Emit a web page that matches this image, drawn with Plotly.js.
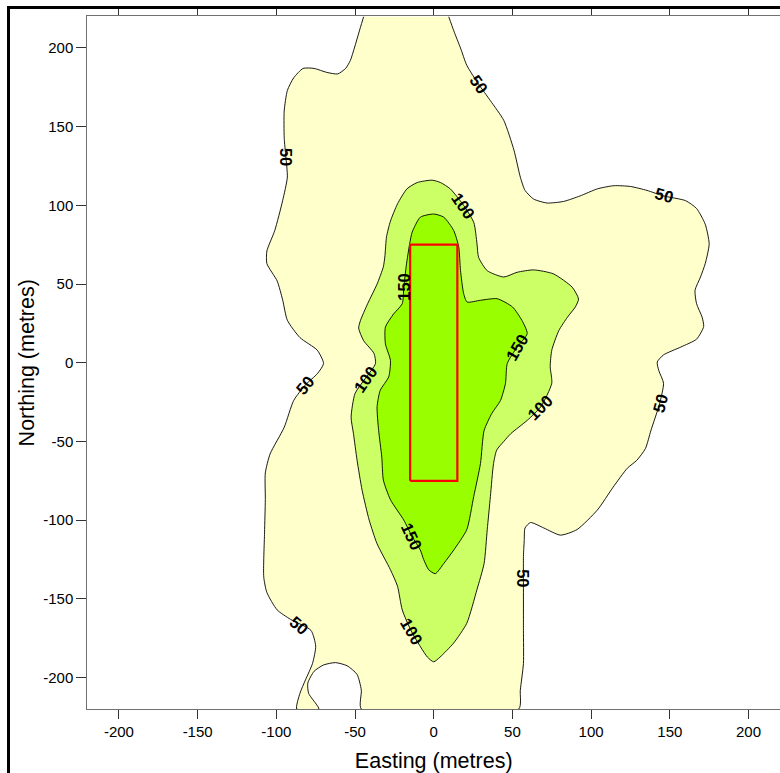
<!DOCTYPE html>
<html>
<head>
<meta charset="utf-8">
<script src="https://cdn.plot.ly/plotly-3.0.1.min.js"></script>
<style>
html,body{margin:0;padding:0;background:#fff;}
#chart{width:780px;height:773px;}
</style>
</head>
<body>
<div id="chart"></div>
<script>
// ---- contour outlines (data units, metres) ----
const c50x = [-44.5,-46.6,-53,-56,-61,-68,-76,-83,-89,-93,-95,-95,-94,-93,-96,-101,-106,-106,-99.5,-96,-93,-85,-74,-70,-74,-81.5,-89,-95,-104,-107,-107,-107.5,-108,-106,-99.5,-91,-78,-75,-77,-81.5,-85,-87,
  -73,-79.5,-80,-76,-70,-62.5,-55,-48.7,-46,-46,
  54,55,57,57,57,57,57.5,58,61.5,70,80.5,91,104,114,123,129,134.5,138,143.5,146,143,142,146,157,167,171.5,170.5,167,166,169.5,172.5,175,172.5,167,160,146,135.5,125,114.5,104,93,82.5,72,63.5,58,55,51,44.5,36,28.5,21,17,12.7,9.5];
const c50y = [220,213,192,187,183.5,184.5,187,187,181,173,160,143,131,118,103,84,71,63,52,40,27,16,8,-0.5,-7,-14,-24,-41,-58,-70,-87,-108,-136,-146,-157,-163,-170,-180,-191,-201.5,-210,-220,
  -220,-210,-203.5,-196,-192,-190.5,-192.5,-198,-208,-220,
  -220,-208,-191,-170,-137,-123,-113,-105,-101.5,-105,-109.5,-106,-93.5,-79,-67,-62,-54.5,-43,-26,-13,-5,0.5,5,10,15,23,29,37.5,46,54.5,63,75.5,88,98,103,106,109.5,112,112.5,110.5,106,102.5,101.5,104,109.5,118,135,154,166.5,177,189,200,211,220];

const c100x = [-1,-10.5,-17,-23,-27.5,-30,-31,-32,-36,-42,-46.5,-47.7,-44.5,-38,-37,-43.5,-50,-52.5,-51,-48.7,-45.5,-41,-36,-27.5,-23,-20,-14,-4,0,4,12.7,21,27.5,32,34,36,38,40,44.5,49,59.5,68,75,74,75,79.5,85,90,92,88,76,63.5,53,44.5,34,28.5,27.5,25.5,19,10.5,4.3];
const c100y = [116,114.5,110.5,101,90,80,68,61,50,37.5,27,22,14,6,-0.5,-10,-19.5,-34.5,-45,-62,-81,-100,-115,-131.5,-142,-157,-171,-187,-190,-187,-178,-165.5,-144,-127.5,-106,-85,-64,-55.5,-50,-45,-36.5,-28,-13,-2.5,8,20.5,29,35.5,40.5,48,56.5,59,57.5,54.5,58.5,67,75.5,89,100,110.5,114.5];

const c150x = [0,-8.5,-13.7,-15.3,-17.4,-19,-20,-25.5,-30.7,-30.7,-27.5,-28.6,-34,-36,-35,-33,-32,-27.5,-19,-13.7,-8.5,-6.4,-3.2,1,6.4,12.7,21,25.4,29.7,32,37,42.4,45.6,46.7,53,59.4,56,50,40.3,29.7,21.2,19,17,15.9,12.7,6.4];
const c150y = [94.5,92.5,83,75.6,62,48,37.5,31,22.7,12,1.5,-9,-17.5,-28,-43,-60,-74.5,-87,-100,-110.5,-119,-125,-131.5,-134,-127.5,-119,-106,-85,-64,-43,-32,-24,-13,-0.5,10,18.5,27,35.5,40.7,39.7,38.6,44,58.7,73.5,84,92.5];

// site boundary rectangle
const rectX = [-15, 15, 15, -15, -15];
const rectY = [-75, -75, 75, 75, -75];

// contour labels
const labelText = ["50","50","50","50","50","50","50","100","100","100","100","150","150","150"];
const labelX = [28.6,-94.3,146.2,143.6,-81.6,-85.8,56.8,19.1,-43.4,67.8,-13.7,-19.1,53,-13.7];
const labelY = [177.2,130.6,106.3,-25.9,-14.3,-166.6,-136.9,99.9,-10,-28,-170.8,48.1,10,-110.5];
const labelAngle = [55,90,15,-75,-50,40,90,55,-55,-45,60,-90,-60,65];

// axis ticks
const xTicks = [-200,-150,-100,-50,0,50,100,150,200];
const xTickText = ["-200","-150","-100","-50","0","50","100","150","200"];
const yTicks = [-200,-150,-100,-50,0,50,100,150,200];
const yTickText = ["-200","-150","-100","-50","0","50","100","150","200"];

const closeLoop = a => a.concat([a[0]]);
const FONT = 'Liberation Sans, Arial, sans-serif';

const lineStyle = {color:'#000', width:0.9, shape:'spline', smoothing:0.6};
const traces = [
  {x:c50x, y:c50y, type:'scatter', mode:'lines', fill:'toself', fillcolor:'#FFFFCC', line:lineStyle, hoverinfo:'skip'},
  {x:closeLoop(c100x), y:closeLoop(c100y), type:'scatter', mode:'lines', fill:'toself', fillcolor:'#CCFF66', line:lineStyle, hoverinfo:'skip'},
  {x:closeLoop(c150x), y:closeLoop(c150y), type:'scatter', mode:'lines', fill:'toself', fillcolor:'#99FF00', line:lineStyle, hoverinfo:'skip'},
  {x:rectX, y:rectY, type:'scatter', mode:'lines', line:{color:'#FF0000', width:2.2}, hoverinfo:'skip'},
  // empty trace that carries the outer frame axes
  {x:[], y:[], type:'scatter', mode:'lines', xaxis:'x2', yaxis:'y2', hoverinfo:'skip'}
];

const annotations = labelText.map((t,i)=>({
  x:labelX[i], y:labelY[i], xref:'x', yref:'y', text:'<b>'+t+'</b>', showarrow:false,
  textangle:labelAngle[i], font:{family:FONT, size:16.5, color:'#000'}
}));

const axisCommon = {
  showgrid:false, zeroline:false, showline:true, linecolor:'#707070', linewidth:1.2,
  ticks:'outside', tickcolor:'#333', tickwidth:1, mirror:'ticks',
  tickfont:{family:FONT, size:15, color:'#000'}
};
const frameAxis = {
  range:[0,1], showgrid:false, zeroline:false, showticklabels:false, ticks:'',
  showline:true, linecolor:'#000', linewidth:2.6, domain:[0,1], fixedrange:true
};

const layout = {
  width:780, height:773,
  margin:{l:9.5, r:0, t:8.5, b:0, pad:0},
  paper_bgcolor:'#fff', plot_bgcolor:'rgba(0,0,0,0)',
  showlegend:false,
  xaxis:Object.assign({}, axisCommon, {
    domain:[0.1006, 1], anchor:'y',
    range:[-220,220], tickvals:xTicks, ticktext:xTickText, ticklen:9,
    title:{text:'Easting (metres)', font:{family:FONT, size:21.5, color:'#000'}, standoff:14}
  }),
  yaxis:Object.assign({}, axisCommon, {
    domain:[0.0837, 0.9902], anchor:'x',
    range:[-220,220], tickvals:yTicks, ticktext:yTickText, ticklen:10,
    title:{text:'Northing (metres)', font:{family:FONT, size:21.5, color:'#000'}, standoff:2}
  }),
  xaxis2:Object.assign({}, frameAxis, {anchor:'y2', side:'top'}),
  yaxis2:Object.assign({}, frameAxis, {anchor:'x2', side:'left'}),
  annotations:annotations
};

Plotly.newPlot('chart', traces, layout, {staticPlot:true});
</script>
</body>
</html>
